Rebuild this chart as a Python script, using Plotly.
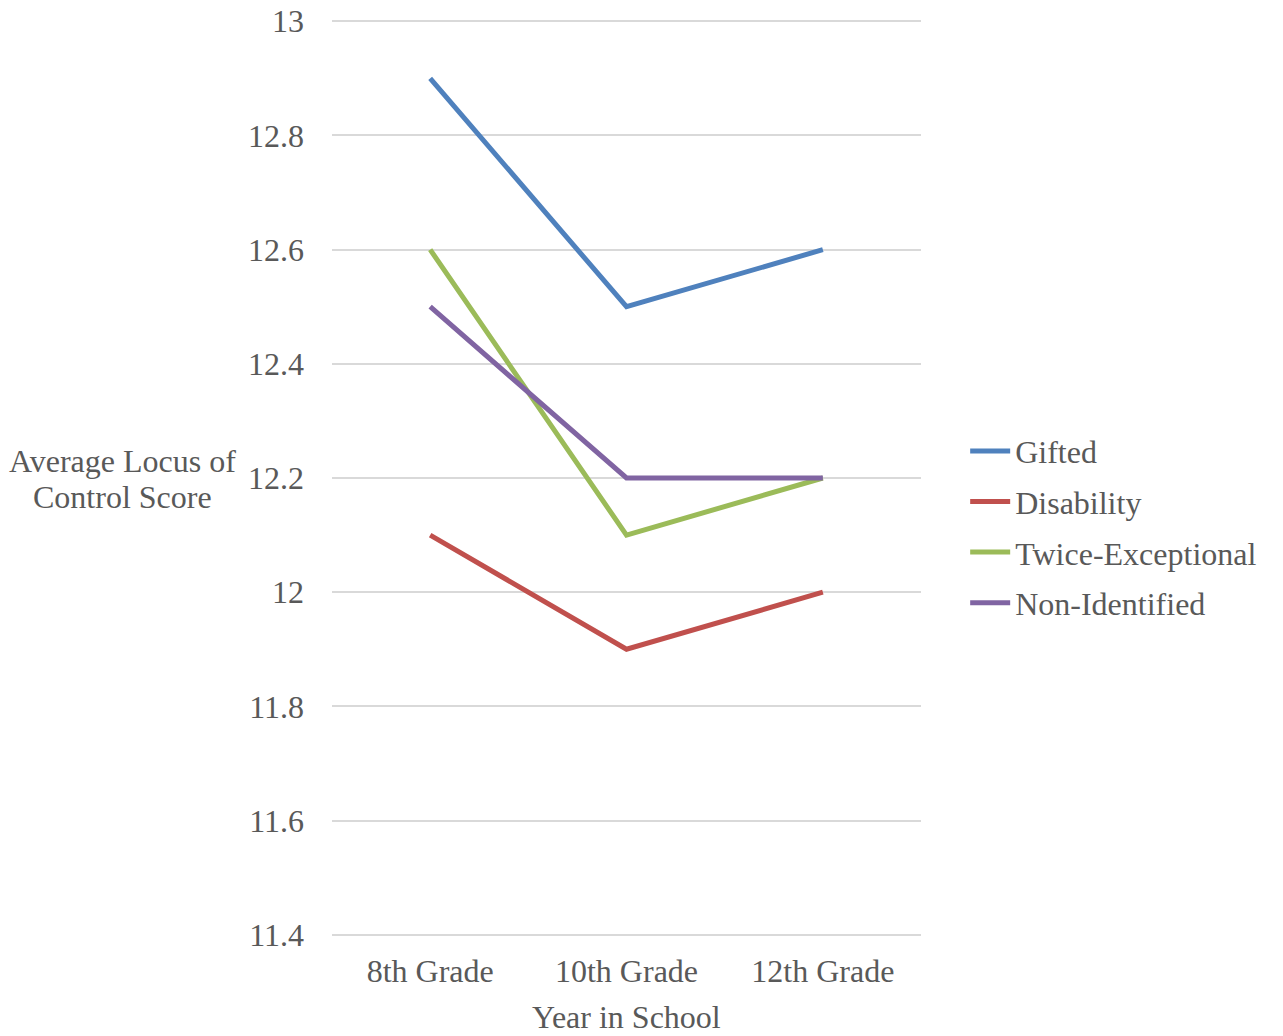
import plotly.graph_objects as go

# Average locus of control score by school year and student group
grades = ["8th Grade", "10th Grade", "12th Grade"]
gifted = [12.9, 12.5, 12.6]
disability = [12.1, 11.9, 12.0]
twice_exceptional = [12.6, 12.1, 12.2]
non_identified = [12.5, 12.2, 12.2]

series = [
    ("Gifted", gifted, "#4F81BD"),
    ("Disability", disability, "#C0504D"),
    ("Twice-Exceptional", twice_exceptional, "#9BBB59"),
    ("Non-Identified", non_identified, "#8064A2"),
]

y_ticks = [11.4, 11.6, 11.8, 12, 12.2, 12.4, 12.6, 12.8, 13]

FONT = "Liberation Serif, Times New Roman, serif"
TEXT = "#595959"
SIZE = 32

fig = go.Figure()
for i, (name, vals, color) in enumerate(series):
    fig.add_trace(go.Scatter(
        x=grades, y=vals, name=name, mode="lines",
        line=dict(color=color, width=5),
        legendgroup=f"g{i}",
    ))

# a small pad on the value range keeps the end gridlines (11.4 and 13) visible
fig.update_layout(
    width=1283, height=1036,
    margin=dict(l=332, r=362, t=19, b=99, autoexpand=False),
    paper_bgcolor="white", plot_bgcolor="white",
    font=dict(family=FONT, size=SIZE, color=TEXT),
    showlegend=True,
    legend=dict(
        x=1.075, y=0.4465, xanchor="left", yanchor="middle",
        traceorder="grouped", tracegroupgap=6,
        font=dict(family=FONT, size=SIZE, color=TEXT),
        itemwidth=40,
    ),
    xaxis=dict(
        type="category", range=[-0.5, 2.5], automargin=False,
        showgrid=False, zeroline=False, showline=False,
        ticks="", ticklabelstandoff=12,
        tickfont=dict(family=FONT, size=SIZE, color=TEXT),
    ),
    yaxis=dict(
        range=[11.396, 13.004], tickvals=y_ticks, automargin=False,
        ticktext=[f"{v:g}" for v in y_ticks],
        showgrid=True, gridcolor="#D9D9D9", gridwidth=2,
        zeroline=False, showline=False,
        ticks="", ticklabelstandoff=27,
        tickfont=dict(family=FONT, size=SIZE, color=TEXT),
    ),
    annotations=[
        dict(text="Average Locus of", xref="paper", yref="paper",
             x=-0.3565, y=0.5186, xanchor="center", yanchor="middle",
             showarrow=False,
             font=dict(family=FONT, size=SIZE, color=TEXT)),
        dict(text="Control Score", xref="paper", yref="paper",
             x=-0.3565, y=0.4792, xanchor="center", yanchor="middle",
             showarrow=False,
             font=dict(family=FONT, size=SIZE, color=TEXT)),
        dict(text="Year in School", xref="paper", yref="paper",
             x=0.5, y=-0.0875, xanchor="center", yanchor="middle",
             showarrow=False,
             font=dict(family=FONT, size=SIZE, color=TEXT)),
    ],
)

fig.write_html("out.html")
